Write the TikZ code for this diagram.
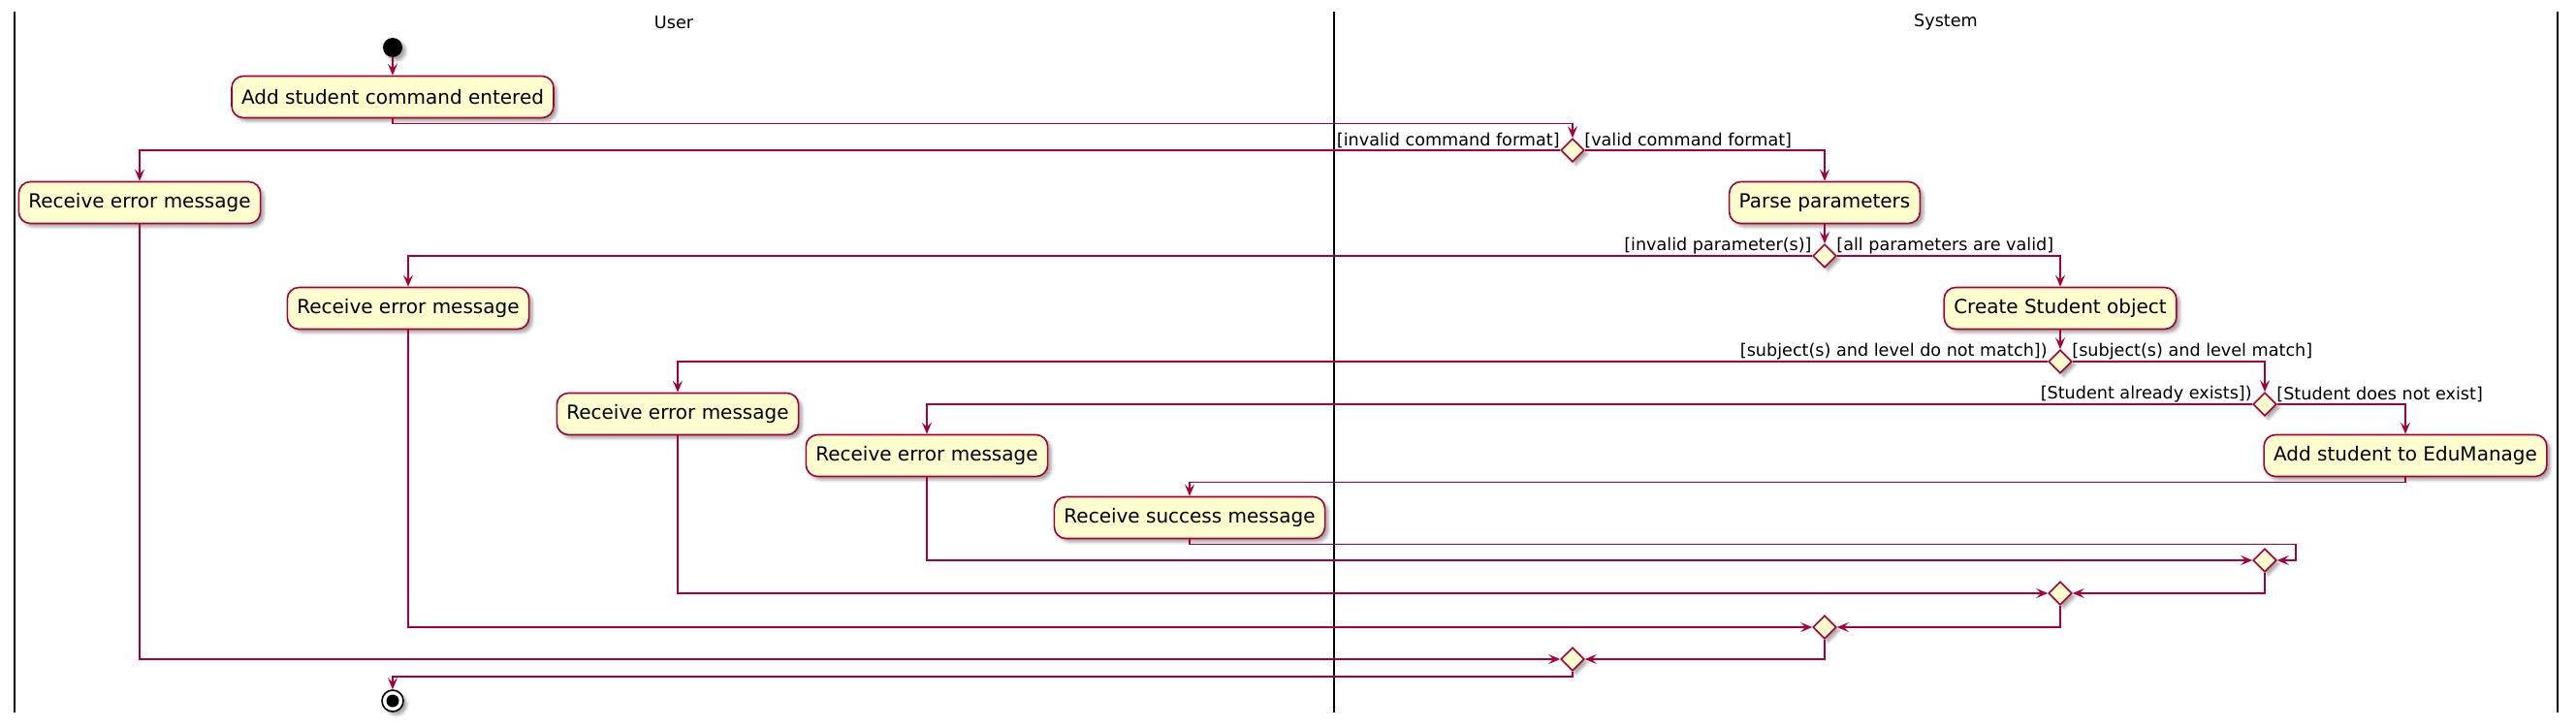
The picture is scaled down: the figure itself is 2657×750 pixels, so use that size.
\documentclass[tikz,border=0pt]{standalone}
\usepackage{fontspec}
\setmainfont{DejaVu Sans}
\usetikzlibrary{shapes.geometric,arrows.meta,shadows.blur,calc}
\definecolor{umlred}{HTML}{A80036}
\definecolor{umlfill}{HTML}{FEFECE}
\begin{document}
\begin{tikzpicture}[x=0.5pt,y=-0.5pt,
  shadowed/.style={blur shadow={shadow xshift=1.8pt,shadow yshift=-1.8pt,shadow blur radius=1.5pt,shadow opacity=35}},
  act/.style={draw=umlred,fill=umlfill,line width=0.8pt,rounded corners=6pt,minimum height=21.5pt,inner xsep=5pt,inner ysep=0pt,font=\fontsize{10}{12}\selectfont,shadowed},
  dec/.style={diamond,draw=umlred,fill=umlfill,line width=0.8pt,minimum width=12pt,minimum height=12pt,inner sep=0pt,shadowed},
  flow/.style={draw=umlred,line width=0.75pt,-{Stealth[length=6pt,width=5pt,inset=2.5pt]}},
  guard/.style={font=\fontsize{8.8}{10}\selectfont,inner sep=0pt},
  lane/.style={draw=black,line width=1pt},
  lanetitle/.style={font=\fontsize{8.8}{10}\selectfont,inner sep=0pt}
]
\useasboundingbox (0,0) rectangle (2657,750);

% swimlanes
\draw[lane] (15,12) -- (15,735);
\draw[lane] (1376,12) -- (1376,735);
\draw[lane] (2638,12) -- (2638,735);
\node[lanetitle] (tuser) at (695,23) {User};
\node[lanetitle] (tsys) at (2007,23) {System};

% nodes
\node[circle,fill=black,minimum size=10pt,inner sep=0pt,shadowed] (start) at (405,49) {};
\node[act] (addcmd) at (405,100) {Add student command entered};
\node[dec] (d1) at (1622,155) {};
\node[act] (err1) at (144,209) {Receive error message};
\node[act] (parse) at (1882,209) {Parse parameters};
\node[dec] (d2) at (1882,264) {};
\node[act] (err2) at (421,318) {Receive error message};
\node[act] (create) at (2125,318) {Create Student object};
\node[dec] (d3) at (2125,373) {};
\node[act] (err3) at (699,427) {Receive error message};
\node[dec] (d4) at (2336,417) {};
\node[act] (err4) at (956,470) {Receive error message};
\node[act] (addedu) at (2481,470) {Add student to EduManage};
\node[act] (succ) at (1227,534) {Receive success message};
\node[dec] (m1) at (2336,578) {};
\node[dec] (m2) at (2125,612) {};
\node[dec] (m3) at (1882,647) {};
\node[dec] (m4) at (1622,680) {};
\node[circle,draw=black,fill=white,line width=0.8pt,minimum size=11pt,inner sep=0pt,shadowed] (end) at (405,723) {};
\node[circle,fill=black,minimum size=6.5pt,inner sep=0pt] (endin) at (end) {};

% guards
\node[guard,anchor=east] (g1l) at ($(d1)+(-13,-10)$) {[invalid command format]};
\node[guard,anchor=west] (g1r) at ($(d1)+(12,-10)$) {[valid command format]};
\node[guard,anchor=east] (g2l) at ($(d2)+(-13,-10)$) {[invalid parameter(s)]};
\node[guard,anchor=west] (g2r) at ($(d2)+(12,-10)$) {[all parameters are valid]};
\node[guard,anchor=east] (g3l) at ($(d3)+(-13,-10)$) {[subject(s) and level do not match])};
\node[guard,anchor=west] (g3r) at ($(d3)+(12,-10)$) {[subject(s) and level match]};
\node[guard,anchor=east] (g4l) at ($(d4)+(-13,-10)$) {[Student already exists])};
\node[guard,anchor=west] (g4r) at ($(d4)+(12,-10)$) {[Student does not exist]};

% connectors
\draw[flow] (start) -- (addcmd);
\draw[flow] (addcmd.south) -- ++(0,5) -| (d1.north);
\draw[flow] (d1.west) -| (err1.north);
\draw[flow] (d1.east) -| (parse.north);
\draw[flow] (parse.south) -- (d2.north);
\draw[flow] (d2.west) -| (err2.north);
\draw[flow] (d2.east) -| (create.north);
\draw[flow] (create.south) -- (d3.north);
\draw[flow] (d3.west) -| (err3.north);
\draw[flow] (d3.east) -| (d4.north);
\draw[flow] (d4.west) -| (err4.north);
\draw[flow] (d4.east) -| (addedu.north);
\draw[flow] (addedu.south) -- ++(0,5) -| (succ.north);
\draw[flow] (succ.south) -- ++(0,5) -| ($(m1.east)+(19,0)$) -- (m1.east);
\draw[flow] (err4.south) |- (m1.west);
\draw[flow] (m1.south) |- (m2.east);
\draw[flow] (err3.south) |- (m2.west);
\draw[flow] (m2.south) |- (m3.east);
\draw[flow] (err2.south) |- (m3.west);
\draw[flow] (m3.south) |- (m4.east);
\draw[flow] (err1.south) |- (m4.west);
\draw[flow] (m4.south) -- ++(0,5) -| (end.north);
\end{tikzpicture}
\end{document}
